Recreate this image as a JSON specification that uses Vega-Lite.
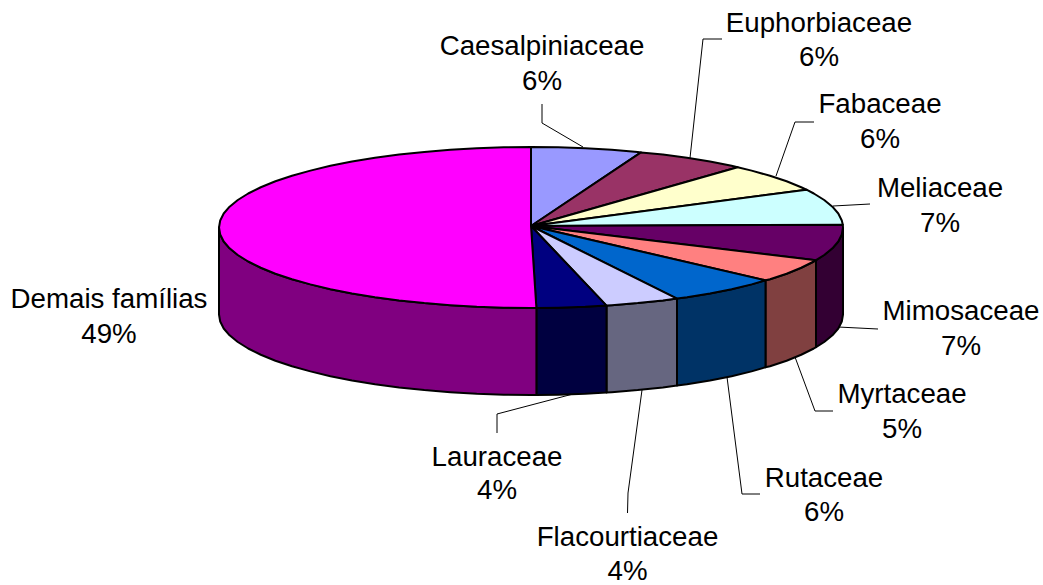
{"$schema":"https://vega.github.io/schema/vega-lite/v6.json","width":1043,"height":585,"padding":0,"autosize":{"type":"fit","contains":"padding"},"background":"white","view":{"stroke":null},
"datasets":{
"faces":[
{"s":"MimW","x":843,"y":227.5},{"s":"MimW","x":841.8,"y":234.5},{"s":"MimW","x":838.3,"y":241.5},{"s":"MimW","x":832.4,"y":248.3},{"s":"MimW","x":824.2,"y":255},{"s":"MimW","x":816,"y":260.2},{"s":"MimW","x":816,"y":347.2},{"s":"MimW","x":824.2,"y":342},{"s":"MimW","x":832.4,"y":335.3},{"s":"MimW","x":838.3,"y":328.5},{"s":"MimW","x":841.8,"y":321.5},{"s":"MimW","x":843,"y":314.5},{"s":"MimW","x":843,"y":227.5},
{"s":"MyrW","x":816,"y":260.2},{"s":"MyrW","x":813.8,"y":261.5},{"s":"MyrW","x":801.2,"y":267.75},{"s":"MyrW","x":786.6,"y":273.7},{"s":"MyrW","x":770,"y":279.3},{"s":"MyrW","x":765.5,"y":280.3},{"s":"MyrW","x":765.5,"y":367.3},{"s":"MyrW","x":770,"y":366.3},{"s":"MyrW","x":786.6,"y":360.7},{"s":"MyrW","x":801.2,"y":354.75},{"s":"MyrW","x":813.8,"y":348.5},{"s":"MyrW","x":816,"y":347.2},{"s":"MyrW","x":816,"y":260.2},
{"s":"RutW","x":765.5,"y":280.3},{"s":"RutW","x":751.6,"y":284.4},{"s":"RutW","x":731.6,"y":289.2},{"s":"RutW","x":710,"y":293.4},{"s":"RutW","x":687,"y":297.2},{"s":"RutW","x":677,"y":298.6},{"s":"RutW","x":677,"y":385.6},{"s":"RutW","x":687,"y":384.2},{"s":"RutW","x":710,"y":380.4},{"s":"RutW","x":731.6,"y":376.2},{"s":"RutW","x":751.6,"y":371.4},{"s":"RutW","x":765.5,"y":367.3},{"s":"RutW","x":765.5,"y":280.3},
{"s":"FlaW","x":677,"y":298.6},{"s":"FlaW","x":662.9,"y":300.5},{"s":"FlaW","x":637.7,"y":303.1},{"s":"FlaW","x":611.7,"y":305.2},{"s":"FlaW","x":606.5,"y":305.6},{"s":"FlaW","x":606.5,"y":392.6},{"s":"FlaW","x":611.7,"y":392.2},{"s":"FlaW","x":637.7,"y":390.1},{"s":"FlaW","x":662.9,"y":387.5},{"s":"FlaW","x":677,"y":385.6},{"s":"FlaW","x":677,"y":298.6},
{"s":"LauW","x":606.5,"y":305.6},{"s":"LauW","x":585.2,"y":306.8},{"s":"LauW","x":558.2,"y":307.7},{"s":"LauW","x":536.4,"y":308},{"s":"LauW","x":536.4,"y":395},{"s":"LauW","x":558.2,"y":394.7},{"s":"LauW","x":585.2,"y":393.8},{"s":"LauW","x":606.5,"y":392.6},{"s":"LauW","x":606.5,"y":305.6},
{"s":"DemW","x":536.4,"y":308},{"s":"DemW","x":531,"y":308},{"s":"DemW","x":503.8,"y":307.7},{"s":"DemW","x":476.8,"y":306.8},{"s":"DemW","x":450.3,"y":305.2},{"s":"DemW","x":424.3,"y":303.1},{"s":"DemW","x":399.1,"y":300.5},{"s":"DemW","x":375,"y":297.2},{"s":"DemW","x":352,"y":293.4},{"s":"DemW","x":330.4,"y":289.2},{"s":"DemW","x":310.4,"y":284.4},{"s":"DemW","x":292,"y":279.3},{"s":"DemW","x":275.4,"y":273.7},{"s":"DemW","x":260.8,"y":267.75},{"s":"DemW","x":248.2,"y":261.5},{"s":"DemW","x":237.8,"y":255},{"s":"DemW","x":229.6,"y":248.3},{"s":"DemW","x":223.7,"y":241.5},{"s":"DemW","x":220.2,"y":234.5},{"s":"DemW","x":219,"y":227.5},{"s":"DemW","x":219,"y":314.5},{"s":"DemW","x":220.2,"y":321.5},{"s":"DemW","x":223.7,"y":328.5},{"s":"DemW","x":229.6,"y":335.3},{"s":"DemW","x":237.8,"y":342},{"s":"DemW","x":248.2,"y":348.5},{"s":"DemW","x":260.8,"y":354.75},{"s":"DemW","x":275.4,"y":360.7},{"s":"DemW","x":292,"y":366.3},{"s":"DemW","x":310.4,"y":371.4},{"s":"DemW","x":330.4,"y":376.2},{"s":"DemW","x":352,"y":380.4},{"s":"DemW","x":375,"y":384.2},{"s":"DemW","x":399.1,"y":387.5},{"s":"DemW","x":424.3,"y":390.1},{"s":"DemW","x":450.3,"y":392.2},{"s":"DemW","x":476.8,"y":393.8},{"s":"DemW","x":503.8,"y":394.7},{"s":"DemW","x":531,"y":395},{"s":"DemW","x":536.4,"y":395},{"s":"DemW","x":536.4,"y":308},
{"s":"Cae","x":531,"y":226},{"s":"Cae","x":531,"y":147},{"s":"Cae","x":558.2,"y":147.3},{"s":"Cae","x":585.2,"y":148.2},{"s":"Cae","x":611.7,"y":149.7},{"s":"Cae","x":637.7,"y":151.9},{"s":"Cae","x":641,"y":152.4},{"s":"Cae","x":531,"y":226},
{"s":"Eup","x":531,"y":226},{"s":"Eup","x":641,"y":152.4},{"s":"Eup","x":662.9,"y":154.5},{"s":"Eup","x":687,"y":157.8},{"s":"Eup","x":710,"y":161.6},{"s":"Eup","x":731.6,"y":165.8},{"s":"Eup","x":737.7,"y":167.2},{"s":"Eup","x":531,"y":226},
{"s":"Fab","x":531,"y":226},{"s":"Fab","x":737.7,"y":167.2},{"s":"Fab","x":751.6,"y":170.6},{"s":"Fab","x":770,"y":175.8},{"s":"Fab","x":786.6,"y":181.3},{"s":"Fab","x":801.2,"y":187.25},{"s":"Fab","x":806.5,"y":189.7},{"s":"Fab","x":531,"y":226},
{"s":"Mel","x":531,"y":226},{"s":"Mel","x":806.5,"y":189.7},{"s":"Mel","x":813.8,"y":193.5},{"s":"Mel","x":824.2,"y":200},{"s":"Mel","x":832.4,"y":206.7},{"s":"Mel","x":838.3,"y":213.5},{"s":"Mel","x":841.8,"y":220.5},{"s":"Mel","x":842.8,"y":224.7},{"s":"Mel","x":531,"y":226},
{"s":"Mim","x":531,"y":226},{"s":"Mim","x":842.8,"y":224.7},{"s":"Mim","x":843,"y":227.5},{"s":"Mim","x":841.8,"y":234.5},{"s":"Mim","x":838.3,"y":241.5},{"s":"Mim","x":832.4,"y":248.3},{"s":"Mim","x":824.2,"y":255},{"s":"Mim","x":816,"y":260.2},{"s":"Mim","x":531,"y":226},
{"s":"Myr","x":531,"y":226},{"s":"Myr","x":816,"y":260.2},{"s":"Myr","x":813.8,"y":261.5},{"s":"Myr","x":801.2,"y":267.75},{"s":"Myr","x":786.6,"y":273.7},{"s":"Myr","x":770,"y":279.3},{"s":"Myr","x":765.5,"y":280.3},{"s":"Myr","x":531,"y":226},
{"s":"Rut","x":531,"y":226},{"s":"Rut","x":765.5,"y":280.3},{"s":"Rut","x":751.6,"y":284.4},{"s":"Rut","x":731.6,"y":289.2},{"s":"Rut","x":710,"y":293.4},{"s":"Rut","x":687,"y":297.2},{"s":"Rut","x":677,"y":298.6},{"s":"Rut","x":531,"y":226},
{"s":"Fla","x":531,"y":226},{"s":"Fla","x":677,"y":298.6},{"s":"Fla","x":662.9,"y":300.5},{"s":"Fla","x":637.7,"y":303.1},{"s":"Fla","x":611.7,"y":305.2},{"s":"Fla","x":606.5,"y":305.6},{"s":"Fla","x":531,"y":226},
{"s":"Lau","x":531,"y":226},{"s":"Lau","x":606.5,"y":305.6},{"s":"Lau","x":585.2,"y":306.8},{"s":"Lau","x":558.2,"y":307.7},{"s":"Lau","x":536.4,"y":308},{"s":"Lau","x":531,"y":226},
{"s":"Dem","x":531,"y":226},{"s":"Dem","x":536.4,"y":308},{"s":"Dem","x":531,"y":308},{"s":"Dem","x":503.8,"y":307.7},{"s":"Dem","x":476.8,"y":306.8},{"s":"Dem","x":450.3,"y":305.2},{"s":"Dem","x":424.3,"y":303.1},{"s":"Dem","x":399.1,"y":300.5},{"s":"Dem","x":375,"y":297.2},{"s":"Dem","x":352,"y":293.4},{"s":"Dem","x":330.4,"y":289.2},{"s":"Dem","x":310.4,"y":284.4},{"s":"Dem","x":292,"y":279.3},{"s":"Dem","x":275.4,"y":273.7},{"s":"Dem","x":260.8,"y":267.75},{"s":"Dem","x":248.2,"y":261.5},{"s":"Dem","x":237.8,"y":255},{"s":"Dem","x":229.6,"y":248.3},{"s":"Dem","x":223.7,"y":241.5},{"s":"Dem","x":220.2,"y":234.5},{"s":"Dem","x":219,"y":227.5},{"s":"Dem","x":220.2,"y":220.5},{"s":"Dem","x":223.7,"y":213.5},{"s":"Dem","x":229.6,"y":206.7},{"s":"Dem","x":237.8,"y":200},{"s":"Dem","x":248.2,"y":193.5},{"s":"Dem","x":260.8,"y":187.25},{"s":"Dem","x":275.4,"y":181.3},{"s":"Dem","x":292,"y":175.8},{"s":"Dem","x":310.4,"y":170.6},{"s":"Dem","x":330.4,"y":165.8},{"s":"Dem","x":352,"y":161.6},{"s":"Dem","x":375,"y":157.8},{"s":"Dem","x":399.1,"y":154.5},{"s":"Dem","x":424.3,"y":151.9},{"s":"Dem","x":450.3,"y":149.7},{"s":"Dem","x":476.8,"y":148.2},{"s":"Dem","x":503.8,"y":147.3},{"s":"Dem","x":531,"y":147},{"s":"Dem","x":531,"y":226}
],
"leaders":[
{"s":"Cae","x":542,"y":104},{"s":"Cae","x":542,"y":123},{"s":"Cae","x":583,"y":147},
{"s":"Eup","x":722,"y":39},{"s":"Eup","x":703,"y":39},{"s":"Eup","x":690,"y":158},
{"s":"Fab","x":814,"y":122},{"s":"Fab","x":795,"y":122},{"s":"Fab","x":776,"y":176},
{"s":"Mel","x":833,"y":206},{"s":"Mel","x":870,"y":204},
{"s":"Mim","x":838,"y":327},{"s":"Mim","x":878,"y":329},
{"s":"Myr","x":795,"y":357},{"s":"Myr","x":815,"y":411},{"s":"Myr","x":833,"y":411},
{"s":"Rut","x":727,"y":377},{"s":"Rut","x":742,"y":494},{"s":"Rut","x":760,"y":494},
{"s":"Fla","x":642,"y":390},{"s":"Fla","x":628,"y":493},{"s":"Fla","x":627.5,"y":513},
{"s":"Lau","x":573,"y":394},{"s":"Lau","x":497,"y":414},{"s":"Lau","x":497,"y":433}
],
"labels":[
{"t":"Caesalpiniaceae","x":542,"y":55},{"t":"6%","x":542,"y":90},
{"t":"Euphorbiaceae","x":819,"y":32},{"t":"6%","x":819,"y":66},
{"t":"Fabaceae","x":880,"y":113},{"t":"6%","x":880,"y":148},
{"t":"Meliaceae","x":940,"y":197},{"t":"7%","x":940,"y":232},
{"t":"Mimosaceae","x":961,"y":320},{"t":"7%","x":961,"y":355},
{"t":"Myrtaceae","x":902,"y":403},{"t":"5%","x":902,"y":438},
{"t":"Rutaceae","x":824,"y":487},{"t":"6%","x":824,"y":521},
{"t":"Flacourtiaceae","x":627.5,"y":546},{"t":"4%","x":627.5,"y":580},
{"t":"Lauraceae","x":497,"y":466},{"t":"4%","x":497,"y":499},
{"t":"Demais famílias","x":109,"y":308},{"t":"49%","x":109,"y":343}
]},
"encoding":{
"x":{"field":"x","type":"quantitative","scale":{"domain":[0,1043],"range":[0,1043],"nice":false,"zero":false},"axis":null},
"y":{"field":"y","type":"quantitative","scale":{"domain":[0,585],"range":[0,585],"nice":false,"zero":false},"axis":null}
},
"layer":[
{"data":{"name":"leaders"},"mark":{"type":"line","stroke":"black","strokeWidth":1,"interpolate":"linear"},"encoding":{"detail":{"field":"s"},"order":{"value":null}}},
{"data":{"name":"faces"},"mark":{"type":"line","stroke":"black","strokeWidth":2,"strokeJoin":"round"},"encoding":{"detail":{"field":"s"},"order":{"value":null},
"fill":{"field":"s","type":"nominal","legend":null,"sort":null,"scale":{"domain":["Cae","Eup","Fab","Mel","Mim","Myr","Rut","Fla","Lau","Dem","MimW","MyrW","RutW","FlaW","LauW","DemW"],"range":["#9999FF","#993366","#FFFFCC","#CCFFFF","#660066","#FF8080","#0066CC","#CCCCFF","#000080","#FF00FF","#330033","#804040","#003366","#666680","#000040","#800080"]}}}},
{"data":{"name":"labels"},"mark":{"type":"text","font":"Liberation Sans","fontSize":27.7,"align":"center","baseline":"alphabetic","color":"black"},"encoding":{"text":{"field":"t"}}}
]}
